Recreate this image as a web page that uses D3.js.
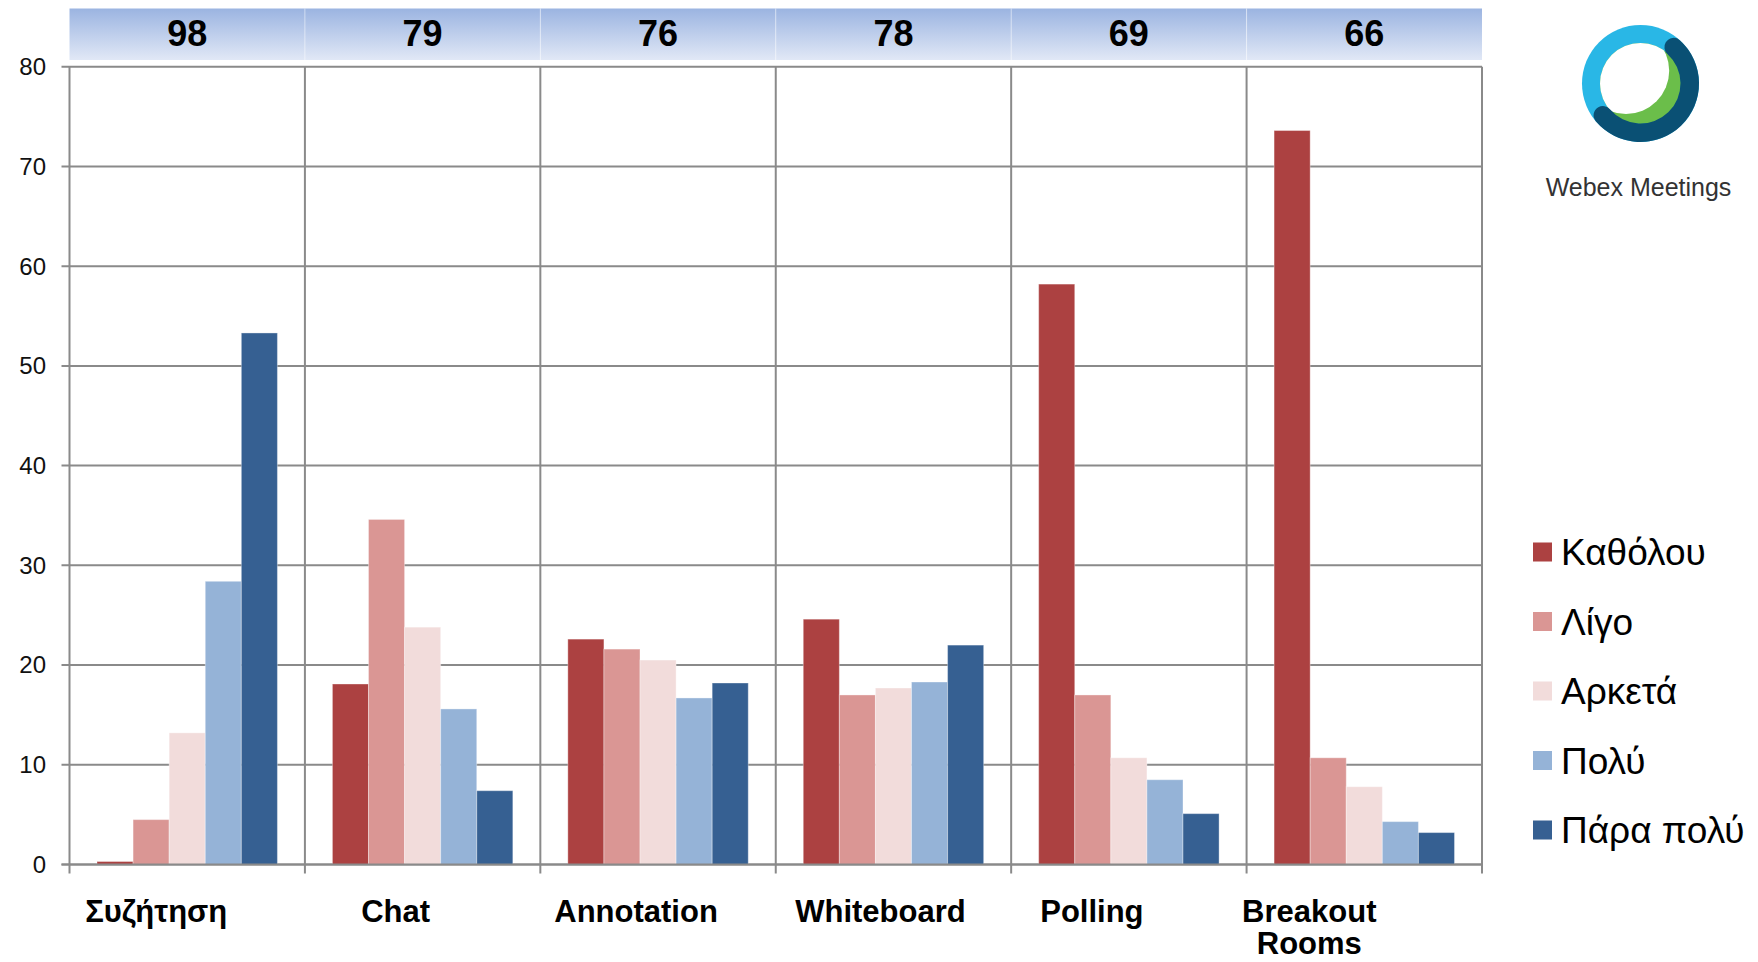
<!DOCTYPE html>
<html>
<head>
<meta charset="utf-8">
<script src="https://cdn.jsdelivr.net/npm/d3@7"></script>
<style>
  html, body { margin: 0; padding: 0; background: #fff; }
  svg { display: block; font-family: "Liberation Sans", Arial, Helvetica, sans-serif; }
</style>
</head>
<body>
<svg id="chart" width="1758" height="962"></svg>
<script>
// ---- data ----
const categories = ["Συζήτηση", "Chat", "Annotation", "Whiteboard", "Polling", "Breakout Rooms"];
const headerTotals = [98, 79, 76, 78, 69, 66];
const seriesNames = ["Καθόλου", "Λίγο", "Αρκετά", "Πολύ", "Πάρα πολύ"];
const katholou = [0.3, 18.1, 22.6, 24.6, 58.2, 73.6];
const ligo     = [4.5, 34.6, 21.6, 17.0, 17.0, 10.7];
const arketa   = [13.2, 23.8, 20.5, 17.7, 10.7, 7.8];
const poly     = [28.4, 15.6, 16.7, 18.3, 8.5, 4.3];
const paraPoly = [53.3, 7.4, 18.2, 22.0, 5.1, 3.2];
const yTicks = [0, 10, 20, 30, 40, 50, 60, 70, 80];
const logoText = "Webex Meetings";

// ---- layout / style ----
const seriesValues = [katholou, ligo, arketa, poly, paraPoly];
const colors = ["#AC4141", "#DA9694", "#F2DCDB", "#95B3D7", "#366092"];
const labelShift = [-31, -27, -22, -13, -37, -55];
const plot = { left: 69.5, right: 1482, top: 66.7, bottom: 864.5 };
const gridColor = "#8a8a8a";

const svg = d3.select("#chart");

const x0 = d3.scaleBand().domain(categories).range([plot.left, plot.right]).padding(0);
const bw = x0.bandwidth();
const gap = 27.5;
const x1 = d3.scaleBand().domain(seriesNames).range([gap, bw - gap]).padding(0);
const y = d3.scaleLinear().domain([0, 80]).range([plot.bottom, plot.top]);

const defs = svg.append("defs");
const grad = defs.append("linearGradient").attr("id", "hdr").attr("x1", 0).attr("y1", 0).attr("x2", 0).attr("y2", 1);
grad.append("stop").attr("offset", "0%").attr("stop-color", "#9BB4E1");
grad.append("stop").attr("offset", "100%").attr("stop-color", "#E1E8F6");

// header band
const hdr = svg.append("g");
hdr.selectAll("rect").data(categories).join("rect")
  .attr("x", d => x0(d)).attr("y", 8.5)
  .attr("width", bw).attr("height", 51.5)
  .attr("fill", "url(#hdr)");
hdr.selectAll("line").data(categories.slice(1)).join("line")
  .attr("x1", d => x0(d)).attr("x2", d => x0(d))
  .attr("y1", 8.5).attr("y2", 60)
  .attr("stroke", "#ffffff").attr("stroke-opacity", 0.45).attr("stroke-width", 1);
hdr.selectAll("text").data(categories).join("text")
  .attr("x", d => x0(d) + bw / 2).attr("y", 46)
  .attr("text-anchor", "middle")
  .attr("font-size", 36).attr("font-weight", "bold").attr("fill", "#000")
  .text((d, i) => headerTotals[i]);

// horizontal gridlines
const grid = svg.append("g");
grid.selectAll("line.h").data(yTicks).join("line").attr("class", "h")
  .attr("x1", plot.left - 8).attr("x2", plot.right)
  .attr("y1", d => y(d)).attr("y2", d => y(d))
  .attr("stroke", gridColor).attr("stroke-width", 2);

// vertical dividers
const bounds = categories.map(c => x0(c)).concat([plot.right]);
grid.selectAll("line.v").data(bounds).join("line").attr("class", "v")
  .attr("x1", d => d).attr("x2", d => d)
  .attr("y1", plot.top).attr("y2", plot.bottom + 9)
  .attr("stroke", gridColor).attr("stroke-width", 2);

// y labels
svg.append("g").selectAll("text").data(yTicks).join("text")
  .attr("x", 46).attr("y", d => y(d))
  .attr("dy", "0.35em").attr("text-anchor", "end")
  .attr("font-size", 24).attr("fill", "#111")
  .text(d => d);

// bars
const groups = svg.append("g").selectAll("g").data(categories).join("g")
  .attr("transform", d => `translate(${x0(d)},0)`);
groups.selectAll("rect")
  .data((c, ci) => seriesNames.map((s, si) => ({ s, si, v: seriesValues[si][ci] })))
  .join("rect")
  .attr("x", d => x1(d.s))
  .attr("y", d => y(d.v))
  .attr("width", x1.bandwidth())
  .attr("height", d => y(0) - y(d.v))
  .attr("fill", d => colors[d.si])
  .attr("stroke", "#ffffff").attr("stroke-opacity", 0.35).attr("stroke-width", 1);

svg.append("line")
  .attr("x1", plot.left - 8).attr("x2", plot.right)
  .attr("y1", y(0)).attr("y2", y(0))
  .attr("stroke", gridColor).attr("stroke-width", 2);

// category labels
const catLabels = svg.append("g").selectAll("text").data(categories).join("text")
  .attr("x", (d, i) => x0(d) + bw / 2 + labelShift[i])
  .attr("y", 922)
  .attr("text-anchor", "middle")
  .attr("font-size", 31).attr("font-weight", "bold").attr("fill", "#000");
catLabels.each(function(d) {
  const words = d.split(" ");
  const t = d3.select(this);
  if (words.length > 1 && d.length > 12) {
    words.forEach((w, k) => t.append("tspan").attr("x", t.attr("x")).attr("dy", k === 0 ? 0 : 32).text(w));
  } else {
    t.text(d);
  }
});

// legend
const legend = svg.append("g").attr("transform", "translate(1533,552)");
const li = legend.selectAll("g").data(seriesNames).join("g")
  .attr("transform", (d, i) => `translate(0,${i * 69.5})`);
li.append("rect").attr("x", 0).attr("y", -9.5).attr("width", 19).attr("height", 19)
  .attr("fill", (d, i) => colors[i]);
li.append("text").attr("x", 28).attr("y", 0).attr("dy", "0.36em")
  .attr("font-size", 37).attr("fill", "#000").text(d => d);

// Webex logo
const cx = 1640.5, cy = 83.5, R = 58.5, ri = 40.5;
defs.append("clipPath").attr("id", "inner").append("circle").attr("r", ri);
const logo = svg.append("g").attr("transform", `translate(${cx},${cy})`);
logo.append("circle").attr("r", R).attr("fill", "#29B7E6");
logo.append("circle").attr("r", ri).attr("fill", "#6BBE4A");
logo.append("circle").attr("cx", -14.5).attr("cy", -12.7).attr("r", 43.2)
  .attr("fill", "#ffffff").attr("clip-path", "url(#inner)");
const arc = d3.arc().innerRadius(R - 18.5).outerRadius(R).startAngle(0.55).endAngle(4.2).cornerRadius(9.2);
logo.append("path").attr("d", arc()).attr("fill", "#0A5074");
svg.append("text").attr("x", cx - 2).attr("y", 196)
  .attr("text-anchor", "middle").attr("font-size", 25).attr("fill", "#333")
  .text(logoText);
</script>
</body>
</html>
